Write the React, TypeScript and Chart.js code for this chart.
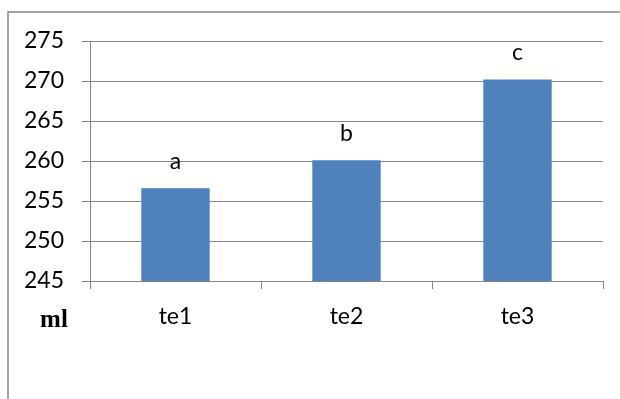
import React, { useEffect, useRef } from "react";
import { Chart, registerables } from "chart.js";

Chart.register(...registerables);

// Treatment groups, measured volumes (ml) and significance letters
const categories = ["te1", "te2", "te3"];
const volumes = [256.6, 260.1, 270.2];
const groupLetters = ["a", "b", "c"];
const yMin = 245;
const yMax = 275;
const yStep = 5;
const unitLabel = "ml";

const W = 620;
const H = 399;
const AXIS_GREY = "#868686";
const BAR_BLUE = "#4F81BD";
const labelFont = { family: "Lato, 'Open Sans', sans-serif", size: 23 };

const frameAndLabels = {
  id: "frameAndLabels",
  beforeDraw(chart: any) {
    const { ctx } = chart;
    ctx.save();
    ctx.fillStyle = "#ffffff";
    ctx.fillRect(0, 0, chart.width, chart.height);
    ctx.strokeStyle = AXIS_GREY;
    ctx.lineWidth = 1.5;
    ctx.strokeRect(8, 12, chart.width + 40, chart.height + 40);
    ctx.restore();
  },
  afterDatasetsDraw(chart: any) {
    const { ctx } = chart;
    const meta = chart.getDatasetMeta(0);
    ctx.save();
    ctx.fillStyle = "#000000";
    ctx.textAlign = "center";
    ctx.textBaseline = "alphabetic";
    ctx.font = `${labelFont.size}px ${labelFont.family}`;
    meta.data.forEach((bar: any, i: number) => {
      ctx.fillText(groupLetters[i], bar.x, bar.y - 19);
    });
    ctx.font = "bold 25px 'Liberation Serif', 'Times New Roman', serif";
    ctx.fillText(unitLabel, 54, 327);
    ctx.restore();
  },
};

export default function App() {
  const canvasRef = useRef<HTMLCanvasElement | null>(null);

  useEffect(() => {
    if (!canvasRef.current) return;
    const chart = new Chart(canvasRef.current, {
      type: "bar",
      data: {
        labels: categories,
        datasets: [
          {
            data: volumes,
            backgroundColor: BAR_BLUE,
            borderWidth: 0,
            barPercentage: 0.4,
            categoryPercentage: 1,
          },
        ],
      },
      options: {
        animation: false,
        responsive: false,
        maintainAspectRatio: false,
        layout: { padding: { left: 0, top: 41, right: W - 603, bottom: 0 } },
        plugins: {
          legend: { display: false },
          tooltip: { enabled: false },
        },
        scales: {
          x: {
            offset: true,
            grid: {
              display: true,
              offset: true,
              drawOnChartArea: false,
              drawTicks: true,
              tickLength: 8,
              color: AXIS_GREY,
              lineWidth: 1,
            },
            border: { display: true, color: AXIS_GREY, width: 1 },
            ticks: { color: "#000000", font: labelFont, padding: 14 },
            afterFit: (scale: any) => {
              scale.height = H - 281;
            },
          },
          y: {
            min: yMin,
            max: yMax,
            ticks: { stepSize: yStep, color: "#000000", font: labelFont, padding: 18 },
            grid: { color: AXIS_GREY, lineWidth: 1, tickLength: 8 },
            border: { display: true, color: AXIS_GREY, width: 1 },
            afterFit: (scale: any) => {
              scale.width = 90;
            },
          },
        },
      },
      plugins: [frameAndLabels],
    });
    return () => chart.destroy();
  }, []);

  return (
    <div style={{ position: "fixed", left: 0, top: 0, width: W, height: H, background: "#fff" }}>
      <canvas ref={canvasRef} width={W} height={H} style={{ width: W, height: H, display: "block" }} />
    </div>
  );
}
